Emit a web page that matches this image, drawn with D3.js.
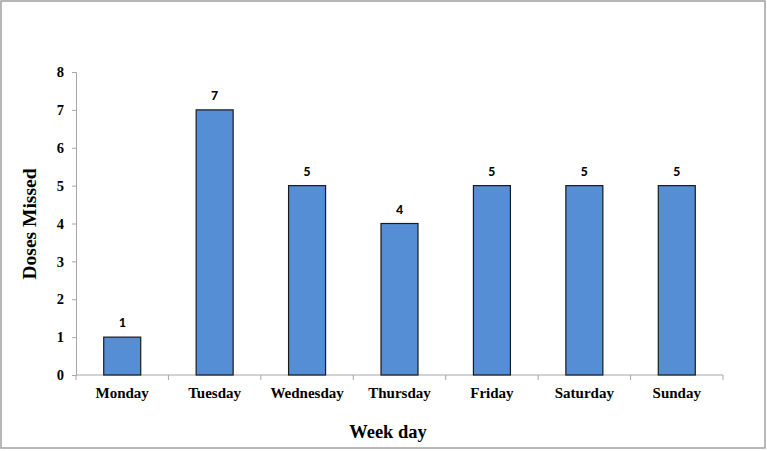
<!DOCTYPE html>
<html>
<head>
<meta charset="utf-8">
<script src="https://cdn.jsdelivr.net/npm/d3@7"></script>
<style>
  body { margin: 0; background: #fff; }
  svg { display: block; }
</style>
</head>
<body>
<script>
var days = ["Monday", "Tuesday", "Wednesday", "Thursday", "Friday", "Saturday", "Sunday"];
var missed = [1, 7, 5, 4, 5, 5, 5];
var yTicks = [0, 1, 2, 3, 4, 5, 6, 7, 8];

(function () {
  var width = 767, height = 451;
  var plotLeft = 76, plotRight = 723, plotTop = 72, plotBottom = 375;
  var serif = "'Liberation Serif', 'Times New Roman', serif";

  var svg = d3.select("body").append("svg")
    .attr("width", width)
    .attr("height", height);

  // outer frame
  svg.append("rect")
    .attr("x", 1).attr("y", 1)
    .attr("width", width - 3).attr("height", height - 4)
    .attr("fill", "none")
    .attr("stroke", "#a0a0a0")
    .attr("stroke-width", 1.5);

  var xb = d3.scaleBand().domain(days).range([plotLeft, plotRight]);
  var y = d3.scaleLinear().domain([0, 8]).range([plotBottom, plotTop]);

  // y axis
  var yAxis = svg.append("g")
    .attr("transform", "translate(" + plotLeft + ",0)")
    .call(d3.axisLeft(y).tickValues(yTicks).tickSize(4).tickPadding(8).tickFormat(d3.format("d")));
  yAxis.select(".domain").attr("stroke", "#a6a6a6");
  yAxis.selectAll(".tick line").attr("stroke", "#a6a6a6");
  yAxis.selectAll("text")
    .attr("font-family", serif)
    .attr("font-weight", "bold")
    .attr("font-size", 14.5)
    .attr("fill", "#000");

  // x axis (ticks at category boundaries)
  var xAxisG = svg.append("g").attr("transform", "translate(0," + plotBottom + ")");
  xAxisG.append("line")
    .attr("x1", plotLeft).attr("x2", plotRight)
    .attr("stroke", "#a6a6a6");
  var bounds = days.map(function (d) { return xb(d); }).concat([plotRight]);
  xAxisG.selectAll(".xt").data(bounds).enter().append("line")
    .attr("x1", function (d) { return d; })
    .attr("x2", function (d) { return d; })
    .attr("y1", 0).attr("y2", 5)
    .attr("stroke", "#a6a6a6");
  xAxisG.selectAll(".xl").data(days).enter().append("text")
    .attr("x", function (d) { return xb(d) + xb.bandwidth() / 2; })
    .attr("y", 23)
    .attr("text-anchor", "middle")
    .attr("font-family", serif)
    .attr("font-weight", "bold")
    .attr("font-size", 15)
    .text(function (d) { return d; });

  // bars
  var data = days.map(function (d, i) { return { day: d, v: missed[i] }; });
  svg.selectAll(".bar").data(data).enter().append("rect")
    .attr("x", function (d) { return xb(d.day) + xb.bandwidth() / 2 - 18.5; })
    .attr("y", function (d) { return y(d.v); })
    .attr("width", 37)
    .attr("height", function (d) { return plotBottom - y(d.v); })
    .attr("fill", "#558ed5")
    .attr("stroke", "#1a1a1a")
    .attr("stroke-width", 1.2);

  // value labels
  svg.selectAll(".lbl").data(data).enter().append("text")
    .attr("x", function (d) { return xb(d.day) + xb.bandwidth() / 2; })
    .attr("y", function (d) { return y(d.v) - 10; })
    .attr("text-anchor", "middle")
    .attr("font-family", "Carlito, Calibri, 'Liberation Sans', Arial, sans-serif")
    .attr("font-weight", "bold")
    .attr("font-size", 14)
    .text(function (d) { return d.v; });

  // axis titles
  svg.append("text")
    .attr("x", 388)
    .attr("y", 438)
    .attr("text-anchor", "middle")
    .attr("font-family", serif)
    .attr("font-weight", "bold")
    .attr("font-size", 18.5)
    .text("Week day");

  svg.append("text")
    .attr("transform", "translate(36,224) rotate(-90)")
    .attr("text-anchor", "middle")
    .attr("font-family", serif)
    .attr("font-weight", "bold")
    .attr("font-size", 19.5)
    .text("Doses Missed");
})();
</script>
</body>
</html>
